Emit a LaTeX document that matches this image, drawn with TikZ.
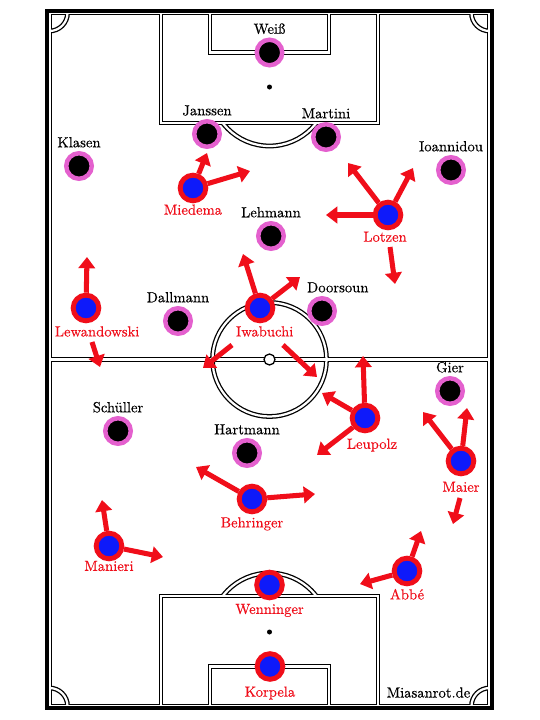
\documentclass[tikz,border=0pt]{standalone}
\usepackage{fontspec}
\setmainfont{lmroman10-regular.otf}[FakeBold=0.35]
\usepackage{tikz}
\usetikzlibrary{positioning}
\usetikzlibrary{arrows.meta}
\definecolor{oppring}{RGB}{228,96,206}
\definecolor{fcbred}{RGB}{240,14,26}
\definecolor{fcbblue}{RGB}{14,26,250}

\begin{document}
\begin{tikzpicture}[x=0.03cm, y=-0.03cm, >={Triangle[length=9.6pt, width=14pt]},
    opp/.style = {circle, fill=black, draw=oppring, line width=3.8pt, minimum size=21.8pt, inner sep=0pt},
    fcb/.style = {circle, fill=fcbblue, draw=fcbred, line width=4.2pt, minimum size=21.9pt, inner sep=0pt},
    oname/.style = {text=black, font=\fontsize{12.5}{14}\selectfont, inner sep=0pt, text height=8pt, text depth=2pt},
    fname/.style = {oname, text=fcbred},
    runarrow/.style = {->, draw=fcbred, line width=4.3pt}
    ]
    \fill[white] (0,0) rectangle (540,720);
    \useasboundingbox (0,0) rectangle (540,720);

    % pitch: black pass, then white pass
    \foreach \lw/\lc in {4.1pt/black, 1.9pt/white} {
        \begin{scope}
            \clip (49.5,13) rectangle (489.5,706);
            \draw[line width=\lw, draw=\lc] (49.5,13) circle[radius=18];
            \draw[line width=\lw, draw=\lc] (489.5,13) circle[radius=18];
            \draw[line width=\lw, draw=\lc] (49.5,706) circle[radius=18];
            \draw[line width=\lw, draw=\lc] (489.5,706) circle[radius=18];
        \end{scope}
        \begin{scope}
            \clip (100,123) rectangle (440,200);
            \draw[line width=\lw, draw=\lc] (269.5,87) circle[radius=59];
        \end{scope}
        \begin{scope}
            \clip (100,520) rectangle (440,596);
            \draw[line width=\lw, draw=\lc] (269.5,632) circle[radius=59];
        \end{scope}
        \draw[line width=\lw, draw=\lc] (161,13) -- (161,123) -- (378,123) -- (378,13);
        \draw[line width=\lw, draw=\lc] (210,13) -- (210,52.5) -- (329,52.5) -- (329,13);
        \draw[line width=\lw, draw=\lc] (161,706) -- (161,596) -- (378,596) -- (378,706);
        \draw[line width=\lw, draw=\lc] (210,706) -- (210,666.5) -- (329,666.5) -- (329,706);
        \draw[line width=\lw, draw=\lc] (269.5,359.5) circle[radius=57];
        \draw[line width=\lw, draw=\lc] (49.5,359.5) -- (489.5,359.5);
        \draw[line width=\lw, draw=\lc] (49.5,13) rectangle (489.5,706);
    }
    \draw[line width=3.4pt] (47,11) rectangle (492,708);
    \fill (269.5,87) circle[radius=2.5];
    \fill (269.5,632) circle[radius=2.5];
    \draw[fill=white, line width=1.1pt] (269.5,359.5) circle[radius=5.5];

    % opponents
    \node[opp] (weiss) at (269.5,52.5) {};
    \node[opp] (janssen) at (207,134) {};
    \node[opp] (martini) at (326,137) {};
    \node[opp] (klasen) at (79,166) {};
    \node[opp] (ioannidou) at (451,170) {};
    \node[opp] (lehmann) at (271,236) {};
    \node[opp] (dallmann) at (178,321) {};
    \node[opp] (doorsoun) at (322,311) {};
    \node[opp] (schueller) at (118,431) {};
    \node[opp] (hartmann) at (247,453) {};
    \node[opp] (gier) at (450,391) {};

    % bayern
    \node[fcb] (miedema) at (193,188) {};
    \node[fcb] (lotzen) at (388,215) {};
    \node[fcb] (lewandowski) at (86,308) {};
    \node[fcb] (iwabuchi) at (260,308) {};
    \node[fcb] (leupolz) at (365,418) {};
    \node[fcb] (maier) at (461,461) {};
    \node[fcb] (behringer) at (252,499) {};
    \node[fcb] (manieri) at (109,546) {};
    \node[fcb] (abbe) at (407,571) {};
    \node[fcb] (wenninger) at (269.5,585) {};
    \node[fcb] (korpela) at (270,666.5) {};

    % names
    \node[oname, above=1pt of weiss] (weissL) {Weiß};
    \node[oname, above=1pt of janssen] (janssenL) {Janssen};
    \node[oname, above=1pt of martini] (martiniL) {Martini};
    \node[oname, above=1pt of klasen] (klasenL) {Klasen};
    \node[oname, above=1pt of ioannidou] (ioannidouL) {Ioannidou};
    \node[oname, above=1pt of lehmann] (lehmannL) {Lehmann};
    \node[oname, above=1pt of dallmann] (dallmannL) {Dallmann};
    \node[oname, above=1pt of doorsoun, xshift=13.5pt] (doorsounL) {Doorsoun};
    \node[oname, above=1pt of schueller] (schuellerL) {Schüller};
    \node[oname, above=1pt of hartmann] (hartmannL) {Hartmann};
    \node[oname, above=1pt of gier] (gierL) {Gier};

    \node[fname, below=1.5pt of miedema] (miedemaL) {Miedema};
    \node[fname, below=1.5pt of lotzen, xshift=-2.5pt] (lotzenL) {Lotzen};
    \node[fname, below=3pt of lewandowski, xshift=9.5pt] (lewandowskiL) {Lewandowski};
    \node[fname, below=3pt of iwabuchi, xshift=4pt] (iwabuchiL) {Iwabuchi};
    \node[fname, below=5pt of leupolz, xshift=6pt] (leupolzL) {Leupolz};
    \node[fname, below=5pt of maier] (maierL) {Maier};
    \node[fname, below=3pt of behringer] (behringerL) {Behringer};
    \node[fname, below=0pt of manieri] (manieriL) {Manieri};
    \node[fname, below=3pt of abbe] (abbeL) {Abbé};
    \node[fname, below=3.4pt of wenninger] (wenningerL) {Wenninger};
    \node[fname, below=4.5pt of korpela] (korpelaL) {Korpela};

    \node[oname] (site) at (428.5,694) {Miasanrot.de};

    % runs
    \coordinate (mied1) at (207,153);
    \coordinate (mied2) at (250,171);
    \coordinate (lotz1) at (348,163);
    \coordinate (lotz2) at (413,168);
    \coordinate (lotz3) at (326,215);
    \coordinate (lotz4s) at (390,247);
    \coordinate (lotz4) at (395,284);
    \coordinate (lewa1) at (87,257);
    \coordinate (lewa2s) at (92,342);
    \coordinate (lewa2) at (100,367);
    \coordinate (iwa1) at (243,254);
    \coordinate (iwa2) at (300,277);
    \coordinate (iwa3s) at (232,345);
    \coordinate (iwa3) at (203,368);
    \coordinate (iwa4s) at (283,345);
    \coordinate (iwa4) at (317,377);
    \coordinate (leup1) at (363,356);
    \coordinate (leup2) at (322,393);
    \coordinate (leup3) at (317,455);
    \coordinate (maier1) at (423,412);
    \coordinate (maier2) at (467,408);
    \coordinate (maier3s) at (460,498);
    \coordinate (maier3) at (453,524);
    \coordinate (behr1) at (196,467);
    \coordinate (behr2) at (315,494);
    \coordinate (mani1) at (102,500);
    \coordinate (mani2) at (163,557);
    \coordinate (abbe1) at (421,531);
    \coordinate (abbe2) at (360,584);

    \draw[runarrow] (miedema) -- (mied1);
    \draw[runarrow] (miedema) -- (mied2);
    \draw[runarrow] (lotzen) -- (lotz1);
    \draw[runarrow] (lotzen) -- (lotz2);
    \draw[runarrow] (lotzen) -- (lotz3);
    \draw[runarrow] (lotz4s) -- (lotz4);
    \draw[runarrow] (lewandowski) -- (lewa1);
    \draw[runarrow] (lewa2s) -- (lewa2);
    \draw[runarrow] (iwabuchi) -- (iwa1);
    \draw[runarrow] (iwabuchi) -- (iwa2);
    \draw[runarrow] (iwa3s) -- (iwa3);
    \draw[runarrow] (iwa4s) -- (iwa4);
    \draw[runarrow] (leupolz) -- (leup1);
    \draw[runarrow] (leupolz) -- (leup2);
    \draw[runarrow] (leupolz) -- (leup3);
    \draw[runarrow] (maier) -- (maier1);
    \draw[runarrow] (maier) -- (maier2);
    \draw[runarrow] (maier3s) -- (maier3);
    \draw[runarrow] (behringer) -- (behr1);
    \draw[runarrow] (behringer) -- (behr2);
    \draw[runarrow] (manieri) -- (mani1);
    \draw[runarrow] (manieri) -- (mani2);
    \draw[runarrow] (abbe) -- (abbe1);
    \draw[runarrow] (abbe) -- (abbe2);
\end{tikzpicture}
\end{document}
